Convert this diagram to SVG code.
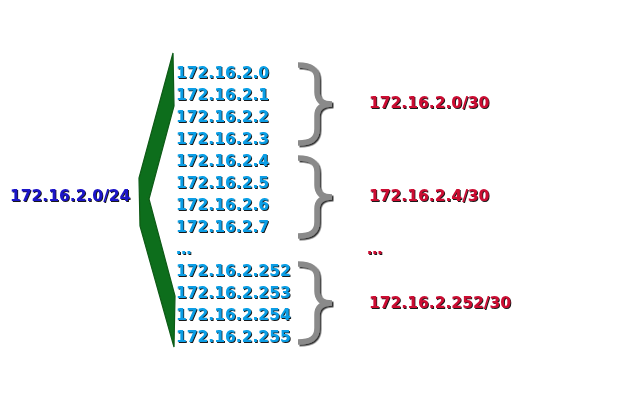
<svg xmlns="http://www.w3.org/2000/svg" xmlns:xlink="http://www.w3.org/1999/xlink" width="640" height="400" viewBox="0 0 640 400">
<style>
text{font-family:"DejaVu Sans","Noto Sans",sans-serif;font-weight:bold;font-size:15.5px;filter:url(#sh)}
.ip{fill:#079ee6}
.net{fill:#1a12c8}
.sub{fill:#cc0a33}
.br{fill:none;stroke:#8a8a8a;stroke-width:5.5;filter:url(#sh2)}
</style>
<defs>
<filter id="sh" x="-5%" y="-20%" width="110%" height="150%">
<feDropShadow dx="1" dy="1" stdDeviation="0.3" flood-color="#000" flood-opacity="0.9"/>
</filter>
<filter id="sh2" x="-20%" y="-10%" width="150%" height="130%">
<feDropShadow dx="1.5" dy="1.5" stdDeviation="0.6" flood-color="#000" flood-opacity="0.8"/>
</filter>
<filter id="blur"><feGaussianBlur stdDeviation="0.7"/></filter>
<path id="brace" d="M298,-39 C311,-39 317,-35 317,-25 L317,-12 C317,-4 322,0 332,0 C322,0 317,4 317,12 L317,25 C317,35 311,39 298,39"/>
</defs>
<g id="wedge">
<polygon points="173,53 174,106 149,199 175,296 174,347 140,226 139,178" fill="#0e6e1c" stroke="#0a5a16" stroke-width="1.2" filter="url(#blur)"/>
</g>
<g id="network">
<text class="net" x="10" y="201">172.16.2.0/24</text>
</g>
<g id="addresses">
<text class="ip" x="176" y="78">172.16.2.0</text>
<text class="ip" x="176" y="100">172.16.2.1</text>
<text class="ip" x="176" y="122">172.16.2.2</text>
<text class="ip" x="176" y="144">172.16.2.3</text>
<text class="ip" x="176" y="166">172.16.2.4</text>
<text class="ip" x="176" y="188">172.16.2.5</text>
<text class="ip" x="176" y="210">172.16.2.6</text>
<text class="ip" x="176" y="232">172.16.2.7</text>
<text class="ip" x="176" y="254">…</text>
<text class="ip" x="176" y="276">172.16.2.252</text>
<text class="ip" x="176" y="298">172.16.2.253</text>
<text class="ip" x="176" y="320">172.16.2.254</text>
<text class="ip" x="176" y="342">172.16.2.255</text>
</g>
<g id="connectors">
<use xlink:href="#brace" class="br" transform="translate(0,104)"/>
<use xlink:href="#brace" class="br" transform="translate(0,197)"/>
<use xlink:href="#brace" class="br" transform="translate(0,303)"/>
</g>
<g id="subnets">
<text class="sub" x="369" y="108">172.16.2.0/30</text>
<text class="sub" x="369" y="201">172.16.2.4/30</text>
<text class="sub" x="367" y="254">…</text>
<text class="sub" x="369" y="308">172.16.2.252/30</text>
</g>
</svg>
